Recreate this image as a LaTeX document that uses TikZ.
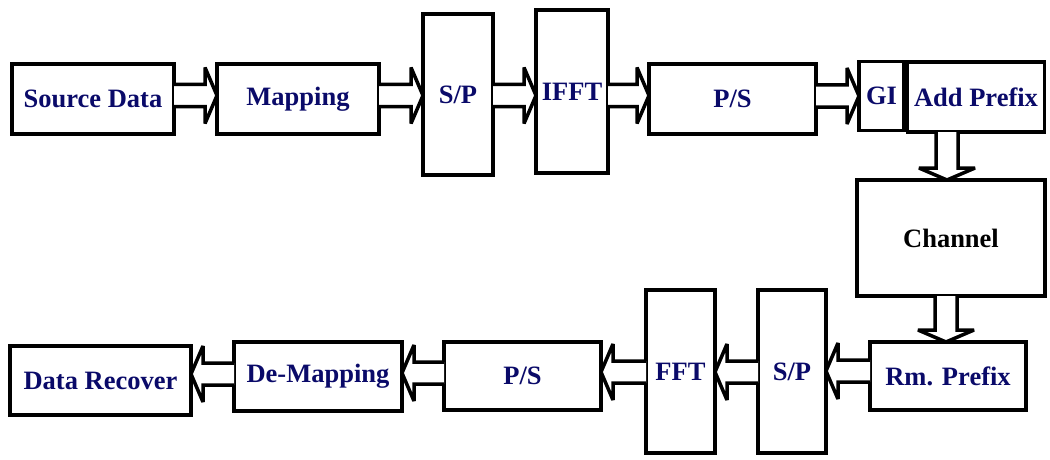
\documentclass[tikz,border=0pt]{standalone}
\usepackage{fontspec}
\setmainfont{Liberation Serif}
\usetikzlibrary{calc}
\definecolor{labelblue}{RGB}{10,10,105}
\tikzset{
  blk/.style={draw, line width=3.5pt, fill=white, inner sep=0pt, outer sep=0pt,
    font=\fontsize{26.5}{30}\selectfont\bfseries, text=labelblue},
  hollow/.style={draw, line width=3.5pt, fill=white, line join=miter, miter limit=3}
}
% hollow block arrows: shaft half width 11, head half width 28, head length 12
\newcommand\arrowright[3]{%
  \draw[hollow] let \p1=(#1.east), \p2=(#2.west), \p3=(0,#3) in
    (\x1,\y3-11pt) -- (\x2-12pt,\y3-11pt) -- (\x2-12pt,\y3-28pt) -- (\x2,\y3)
    -- (\x2-12pt,\y3+28pt) -- (\x2-12pt,\y3+11pt) -- (\x1,\y3+11pt);}
\newcommand\arrowleft[3]{%
  \draw[hollow] let \p1=(#1.west), \p2=(#2.east), \p3=(0,#3) in
    (\x1,\y3-11pt) -- (\x2+12pt,\y3-11pt) -- (\x2+12pt,\y3-28pt) -- (\x2,\y3)
    -- (\x2+12pt,\y3+28pt) -- (\x2+12pt,\y3+11pt) -- (\x1,\y3+11pt);}
\newcommand\arrowdown[3]{%
  \draw[hollow] let \p1=(#1.south), \p2=(#2.north), \p3=(#3,0) in
    (\x3-11pt,\y1) -- (\x3-11pt,\y2+12pt) -- (\x3-28pt,\y2+12pt) -- (\x3,\y2)
    -- (\x3+28pt,\y2+12pt) -- (\x3+11pt,\y2+12pt) -- (\x3+11pt,\y1);}
\begin{document}
\begin{tikzpicture}[x=1pt,y=-1pt]
\useasboundingbox (0,0) rectangle (1050,460);

% transmitter chain
\node[blk, minimum width=162pt, minimum height=70pt] (src) at (93,99) {Source Data};
\node[blk, minimum width=162pt, minimum height=70pt] (map) at (298,99) {Mapping};
\node[blk, minimum width=70pt, minimum height=161pt] (sp1) at (458,94.5) {S/P};
\node[blk, minimum width=72pt, minimum height=163pt] (ifft) at (572,91.5) {IFFT};
\node[blk, minimum width=167pt, minimum height=70pt] (ps1) at (732.5,99) {P/S};
\node[blk, minimum width=45pt, minimum height=69pt] (gi) at (881.5,96) {GI};
\node[blk, minimum width=137pt, minimum height=70pt] (addp) at (976,97) {Add Prefix};

% channel
\node[blk, text=black, minimum width=188pt, minimum height=116pt] (chan) at (951,238) {Channel};

% receiver chain
\node[blk, minimum width=156pt, minimum height=68pt] (rmp) at (948,376) {Rm. Prefix};
\node[blk, minimum width=68pt, minimum height=163pt] (sp2) at (792,371.5) {S/P};
\node[blk, minimum width=69pt, minimum height=163pt] (fft) at (680.5,371.5) {FFT};
\node[blk, minimum width=157pt, minimum height=68pt] (ps2) at (522.5,376) {P/S};
\node[blk, minimum width=168pt, minimum height=69pt] (demap) at (318,376.5) {De-Mapping};
\node[blk, minimum width=181pt, minimum height=69pt] (drec) at (100.5,380.5) {Data Recover};

% connectors
\arrowright{src}{map}{95.5}
\arrowright{map}{sp1}{95.5}
\arrowright{sp1}{ifft}{95.5}
\arrowright{ifft}{ps1}{95.5}
\arrowright{ps1}{gi}{96}
\arrowdown{addp}{chan}{947}
\arrowdown{chan}{rmp}{946}
\arrowleft{rmp}{sp2}{371}
\arrowleft{sp2}{fft}{372}
\arrowleft{fft}{ps2}{372}
\arrowleft{ps2}{demap}{373}
\arrowleft{demap}{drec}{374}
\end{tikzpicture}
\end{document}
